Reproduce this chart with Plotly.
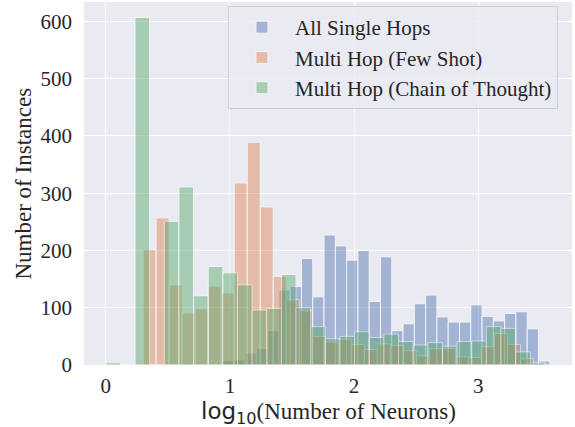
import plotly.graph_objects as go

# ---- data ----
series_names = ["All Single Hops", "Multi Hop (Few Shot)", "Multi Hop (Chain of Thought)"]

single_bin_start = 0.94
single_bin_width = 0.0909
single_counts = [8, 9, 21, 29, 60, 131, 137, 186, 119, 227, 208, 183, 200, 111, 189,
                 60, 72, 107, 122, 84, 75, 75, 105, 85, 77, 90, 93, 63, 7]

fewshot_bin_start = 0.301
fewshot_bin_width = 0.1048
fewshot_counts = [202, 257, 140, 91, 98, 138, 126, 318, 389, 276, 155, 114, 95, 50, 40,
                  45, 36, 27, 37, 34, 25, 16, 29, 29, 14, 13, 32, 55, 36, 11, 3]

cot_bin_start = 0.0
cot_bin_width = 0.1179
cot_counts = [4, 0, 607, 0, 251, 311, 121, 172, 161, 140, 96, 99, 158, 100, 67,
              46, 50, 58, 48, 54, 41, 35, 39, 33, 41, 42, 67, 64, 23, 4]

x_ticks = [0, 1, 2, 3]
y_ticks = [0, 100, 200, 300, 400, 500, 600]

x_title = ('<span style="font-family:DejaVu Sans">log</span>'
           '<sub><span style="font-family:DejaVu Sans">10</span></sub>(Number of Neurons)')
y_title = "Number of Instances"

colors = ["#4C72B0", "#DD8452", "#55A868"]

SERIF = "Liberation Serif, Times New Roman, serif"

fig = go.Figure()
for name, start, width, counts, col in [
    (series_names[0], single_bin_start, single_bin_width, single_counts, colors[0]),
    (series_names[1], fewshot_bin_start, fewshot_bin_width, fewshot_counts, colors[1]),
    (series_names[2], cot_bin_start, cot_bin_width, cot_counts, colors[2]),
]:
    centers = [start + (i + 0.5) * width for i in range(len(counts))]
    fig.add_trace(go.Bar(
        x=centers, y=counts, width=width, name=name,
        marker=dict(color=col, line=dict(color="white", width=1)),
        opacity=0.45, legendgroup=name,
    ))

fig.update_layout(
    width=575, height=427,
    margin=dict(l=84, r=3, t=2, b=62),
    barmode="overlay",
    paper_bgcolor="white",
    plot_bgcolor="#EAEAF2",
    font=dict(family=SERIF, size=21, color="#262626"),
    showlegend=True,
    legend=dict(
        x=0.295, y=0.989, xanchor="left", yanchor="top",
        bgcolor="rgba(234,234,242,0.8)",
        bordercolor="rgba(204,204,204,0.9)", borderwidth=1,
        font=dict(family=SERIF, size=21, color="#262626"),
        tracegroupgap=0, itemwidth=56,
    ),
    xaxis=dict(
        range=[-0.175, 3.755], tickvals=x_ticks, ticktext=[str(v) for v in x_ticks],
        showgrid=True, gridcolor="white", gridwidth=1.4, zeroline=False,
        showline=False, ticks="", tickfont=dict(size=21),
        ticklabelstandoff=6, automargin=False,
    ),
    yaxis=dict(
        range=[0, 634], tickvals=y_ticks, ticktext=[str(v) for v in y_ticks],
        showgrid=True, gridcolor="white", gridwidth=1.4, zeroline=False,
        showline=False, ticks="", tickfont=dict(size=21),
        ticklabelstandoff=11, automargin=False,
    ),
    annotations=[
        dict(text=x_title, xref="paper", yref="paper", x=0.5, y=-0.132,
             xanchor="center", yanchor="middle", showarrow=False,
             font=dict(family=SERIF, size=23, color="#262626")),
        dict(text=y_title, xref="paper", yref="paper", x=-0.125, y=0.5,
             xanchor="center", yanchor="middle", textangle=-90, showarrow=False,
             font=dict(family=SERIF, size=23, color="#262626")),
    ],
)

# remove the default page margin so the figure sits at the window's top-left corner
fig.write_html("out.html", config={"displayModeBar": False},
               post_script="document.body.style.margin='0';")
